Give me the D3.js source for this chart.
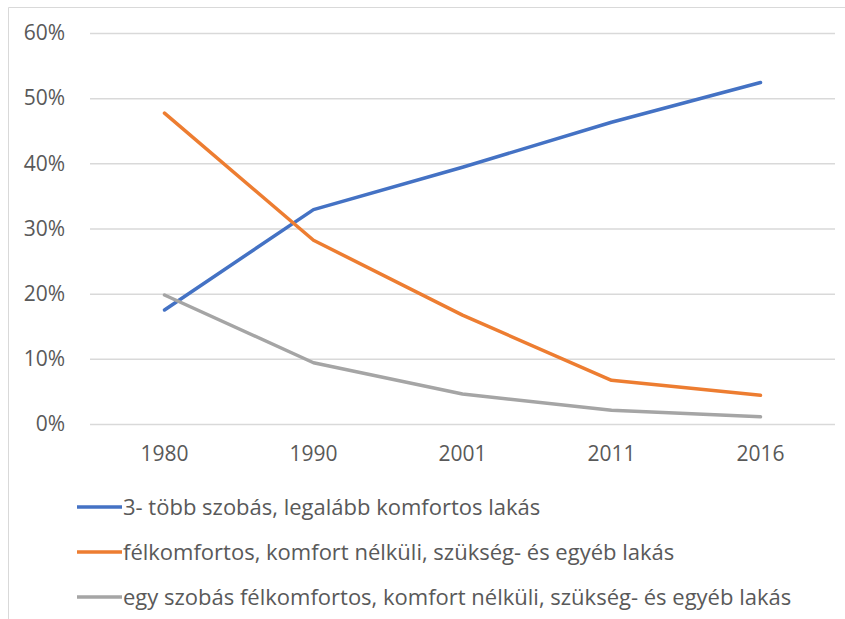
<!DOCTYPE html>
<html>
<head>
<meta charset="utf-8">
<script src="https://cdn.jsdelivr.net/npm/d3@7"></script>
<style>
  body { margin: 0; background: #fff; }
  text { font-family: "Open Sans", sans-serif; fill: #595959; }
</style>
</head>
<body>
<div id="chart"></div>
<script>
// ---- data ----
var years = ["1980", "1990", "2001", "2011", "2016"];
var seriesNames = [
  "3- több szobás, legalább komfortos lakás",
  "félkomfortos, komfort nélküli, szükség- és egyéb lakás",
  "egy szobás félkomfortos, komfort nélküli, szükség- és egyéb lakás"
];
var tobbSzobas = [17.5, 32.9, 39.4, 46.3, 52.4];
var felkomfortos = [47.7, 28.2, 16.7, 6.7, 4.4];
var egySzobas = [19.8, 9.4, 4.6, 2.1, 1.1];
var seriesColors = ["#4472C4", "#ED7D31", "#A5A5A5"];
var yTicks = [0, 10, 20, 30, 40, 50, 60];

var series = [tobbSzobas, felkomfortos, egySzobas].map(function(v, i) {
  return { name: seriesNames[i], color: seriesColors[i], values: v };
});

// ---- layout ----
var W = 845, H = 619;
var plot = { left: 90, right: 835, top: 33, bottom: 424 };
var fontSize = 21;

var svg = d3.select("#chart").append("svg")
  .attr("width", W).attr("height", H);

// outer frame (only top and left edges are in view)
svg.append("path")
  .attr("d", "M8.5," + H + "V7.5H" + W)
  .attr("fill", "none").attr("stroke", "#d9d9d9").attr("stroke-width", 1);

var x = d3.scaleBand().domain(years).range([plot.left, plot.right]);
var y = d3.scaleLinear().domain([0, 60]).range([plot.bottom, plot.top]);

// gridlines + y labels
var yAxis = d3.axisLeft(y).tickValues(yTicks)
  .tickSize(-(plot.right - plot.left))
  .tickPadding(25)
  .tickFormat(function(d) { return d + "%"; });
var gy = svg.append("g")
  .attr("transform", "translate(" + plot.left + ",0)")
  .call(yAxis);
gy.select(".domain").remove();
gy.selectAll("line").attr("stroke", "#d9d9d9").attr("stroke-width", 1.5);
gy.selectAll("text").attr("font-size", fontSize).style("fill", "#595959");

// x labels
var xAxis = d3.axisBottom(x).tickSize(0).tickPadding(22);
var gx = svg.append("g")
  .attr("transform", "translate(0," + plot.bottom + ")")
  .call(xAxis);
gx.select(".domain").remove();
gx.selectAll("text").attr("font-size", fontSize).style("fill", "#595959");

// lines
var line = d3.line()
  .x(function(d, i) { return x(years[i]) + x.bandwidth() / 2; })
  .y(function(d) { return y(d); });

svg.selectAll("path.series")
  .data(series)
  .enter().append("path")
  .attr("class", "series")
  .attr("d", function(d) { return line(d.values); })
  .attr("fill", "none")
  .attr("stroke", function(d) { return d.color; })
  .attr("stroke-width", 3.5)
  .attr("stroke-linejoin", "round")
  .attr("stroke-linecap", "round");

// legend
var legend = svg.selectAll("g.legend")
  .data(series)
  .enter().append("g")
  .attr("class", "legend")
  .attr("transform", function(d, i) { return "translate(77," + (507 + i * 45) + ")"; });
legend.append("line")
  .attr("x1", 0).attr("x2", 45)
  .attr("stroke", function(d) { return d.color; })
  .attr("stroke-width", 3.5);
legend.append("text")
  .attr("x", 46).attr("dy", "0.35em")
  .attr("font-size", 22)
  .text(function(d) { return d.name; });
</script>
</body>
</html>
